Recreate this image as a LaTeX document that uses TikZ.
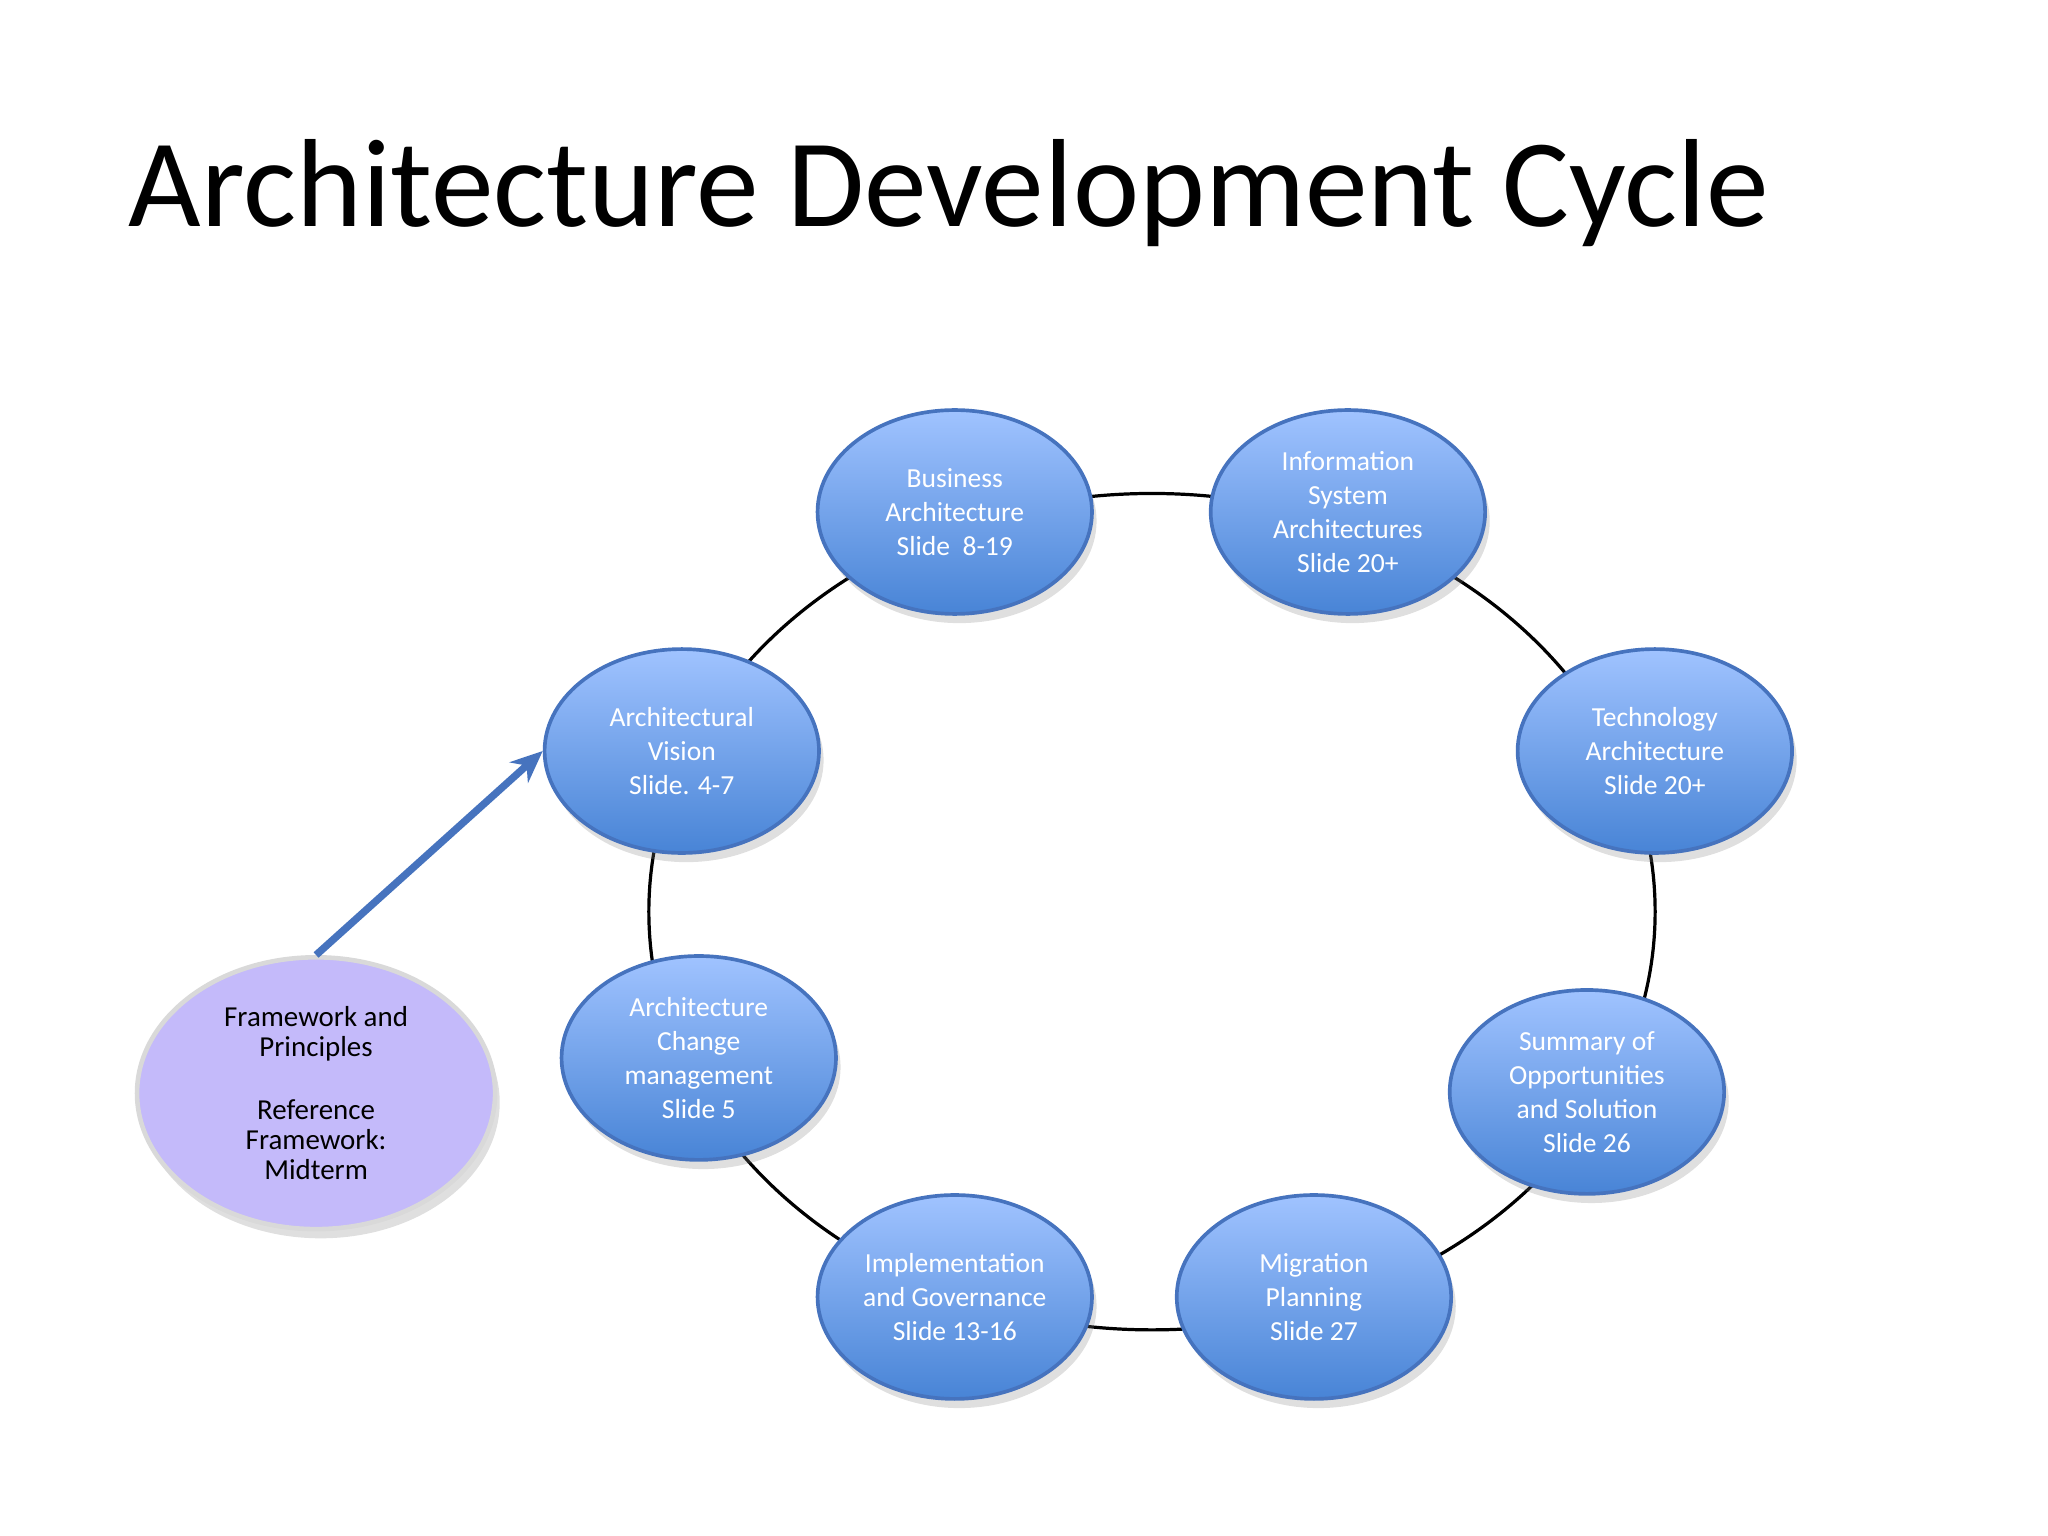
\documentclass[tikz,border=0pt]{standalone}
\usepackage{fontspec}
\setmainfont{Carlito}
\usetikzlibrary{shapes.geometric,arrows.meta,shadows}
\definecolor{btop}{RGB}{160,195,255}
\definecolor{bbot}{RGB}{72,132,214}
\definecolor{bdr}{RGB}{70,115,190}
\definecolor{purp}{RGB}{196,186,250}
\begin{document}
\begin{tikzpicture}[x=0.01cm,y=-0.01cm,
  phase/.style={ellipse,draw=bdr,line width=0.8pt,top color=btop,bottom color=bbot,
    minimum width=2.1cm,minimum height=1.56cm,inner sep=0pt,align=center,text=white,
    font=\fontsize{6}{7.4}\selectfont,drop shadow={opacity=0.25,shadow xshift=1pt,shadow yshift=-2pt}},
  ring/.style={draw=black,line width=0.7pt}]
\useasboundingbox (0,0) rectangle (1568,1176);
\node[anchor=west,font=\fontsize{27.3}{30}\selectfont] (title) at (86,148) {Architecture Development Cycle};
\draw[ring] (882,698) ellipse [x radius=3.85cm,y radius=3.2cm];
\node[phase] (bus) at (731,392) {Business\\Architecture\\Slide\ \ 8-19};
\node[phase] (inf) at (1032,392) {Information\\System\\Architectures\\Slide 20+};
\node[phase] (vis) at (522,575) {Architectural\\Vision\\Slide. 4-7};
\node[phase] (tec) at (1267,575) {Technology\\Architecture\\Slide 20+};
\node[phase] (chg) at (535,810) {Architecture\\Change\\management\\Slide 5};
\node[phase] (sum) at (1215,836) {Summary of\\Opportunities\\and Solution\\Slide 26};
\node[phase] (imp) at (731,993) {Implementation\\and Governance\\Slide 13-16};
\node[phase] (mig) at (1006,993) {Migration\\Planning\\Slide 27};
\node[ellipse,draw=black!15,line width=1pt,fill=purp,minimum width=2.74cm,minimum height=2.08cm,inner sep=0pt,
  align=center,font=\fontsize{6.3}{6.6}\selectfont,drop shadow={opacity=0.25,shadow xshift=1pt,shadow yshift=-2pt}]
  (fw) at (242,837) {Framework and\\Principles\\[7pt]Reference\\Framework:\\Midterm};
\draw[bdr,line width=1.6pt,-{Stealth[length=7pt,width=6pt]}] (fw.north) -- (vis.west);
\end{tikzpicture}
\end{document}
